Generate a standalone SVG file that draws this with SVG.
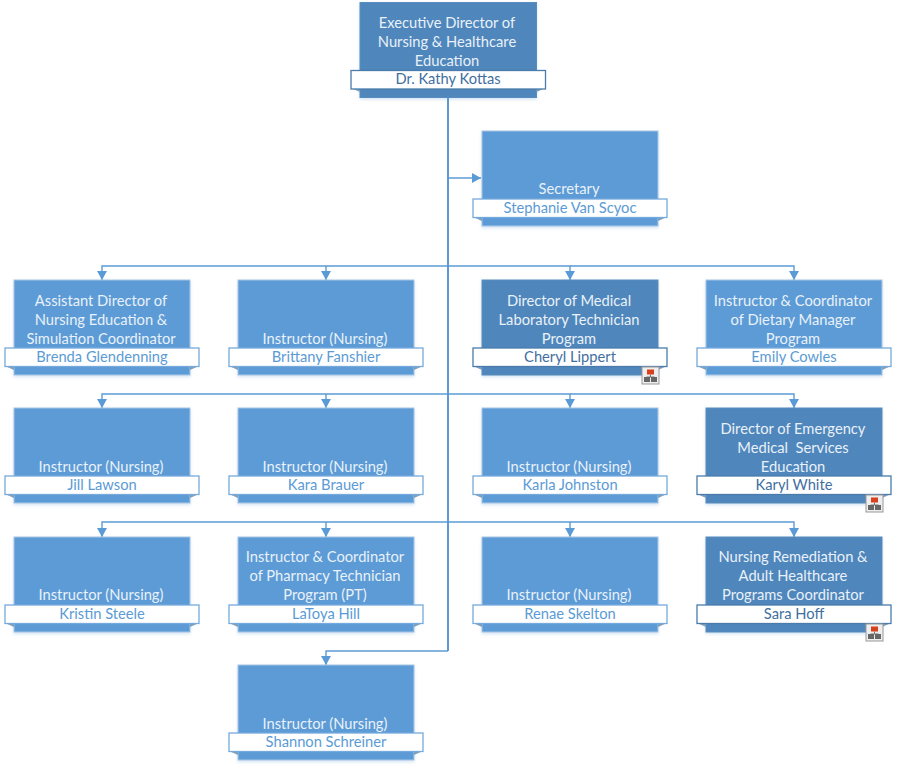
<svg xmlns="http://www.w3.org/2000/svg" xmlns:xlink="http://www.w3.org/1999/xlink" width="897" height="768" viewBox="0 0 897 768">
<style>
svg{--body:#5b9bd5;--edge:#a9c6e4;--rim:#76a9dc;--name:#5b9bd5}
.mgr{--body:#5086bb;--edge:#5a8dbf;--rim:#4a7bab;--name:#3f6f9f}
text{font-family:"Lato","Open Sans","Liberation Sans",sans-serif;font-size:14.7px;text-anchor:middle}
.t{fill:#e9f1fa}
.box{fill:var(--body);stroke:var(--edge);stroke-width:1}
.ban{fill:#fff;stroke:var(--rim);stroke-width:1.3}
.n{fill:var(--name)}
.fold{fill:#7f9fbf}
.shade{filter:url(#soft)}
.wire{fill:none;stroke:#5b9bd5;stroke-width:1.4}
.trunk{fill:none;stroke:#5b9bd5;stroke-width:2}
</style>
<defs>
<filter id="soft" x="-10%" y="-10%" width="120%" height="125%"><feDropShadow dx="0" dy="1.500" stdDeviation="1.500" flood-color="#5b9bd5" flood-opacity=".28"/></filter>
<marker id="arr" markerUnits="userSpaceOnUse" markerWidth="10" markerHeight="10" refX="9" refY="5" orient="auto"><path d="M0 0L9 5L0 10Z" fill="#5b9bd5"/></marker>
<g id="card">
<rect class="box shade" x="0" y="0" width="176" height="95"/>
<path class="fold" d="M-9 86L0 90V86ZM185 86L176 90V86Z"/>
<rect class="ban" x="-9" y="68" width="194" height="18.500"/>
</g>
<g id="sub">
<rect x="0" y="0" width="17" height="17" fill="#eee" stroke="#999"/>
<rect x="5" y="2.500" width="7" height="5" fill="#d9401c"/>
<path d="M8.500 7.500V10M4.500 10H12.500" stroke="#777" fill="none"/>
<rect x="2" y="10" width="6" height="5" fill="#666"/><rect x="9" y="10" width="6" height="5" fill="#666"/>
</g>
</defs>
<g id="connectors">
<path class="trunk" d="M448 97V651"/>
<path class="wire" d="M448 178H481" marker-end="url(#arr)"/>
<path class="wire" d="M448 266H102V280" marker-end="url(#arr)"/>
<path class="wire" d="M326 266V280" marker-end="url(#arr)"/>
<path class="wire" d="M448 266H570V280" marker-end="url(#arr)"/>
<path class="wire" d="M570 266H794V280" marker-end="url(#arr)"/>
<path class="wire" d="M448 394H102V408" marker-end="url(#arr)"/>
<path class="wire" d="M326 394V408" marker-end="url(#arr)"/>
<path class="wire" d="M448 394H570V408" marker-end="url(#arr)"/>
<path class="wire" d="M570 394H794V408" marker-end="url(#arr)"/>
<path class="wire" d="M448 522H102V537" marker-end="url(#arr)"/>
<path class="wire" d="M326 522V537" marker-end="url(#arr)"/>
<path class="wire" d="M448 522H570V537" marker-end="url(#arr)"/>
<path class="wire" d="M570 522H794V537" marker-end="url(#arr)"/>
<path class="wire" d="M448 651H326V665" marker-end="url(#arr)"/>
</g>
<g id="node-kottas" class="mgr"><rect class="box shade" x="360" y="2.500" width="176.500" height="95"/><path class="fold" d="M351 88L360 92V88ZM545.500 88L536.500 92V88Z"/><rect class="ban" x="351" y="70.500" width="194.500" height="18.500"/><text class="t" x="447" y="28">Executive Director of</text><text class="t" x="447" y="47">Nursing &amp; Healthcare</text><text class="t" x="447" y="66">Education</text><text class="n" x="448" y="84">Dr. Kathy Kottas</text></g>
<g id="node-vanscyoc"><use xlink:href="#card" x="482" y="131"/><text class="t" x="569" y="194">Secretary</text><text class="n" x="570" y="213">Stephanie Van Scyoc</text></g>
<g id="node-glendenning"><use xlink:href="#card" x="14" y="280"/><text class="t" x="101" y="306">Assistant Director of</text><text class="t" x="101" y="325">Nursing Education &amp;</text><text class="t" x="101" y="344">Simulation Coordinator</text><text class="n" x="102" y="362">Brenda Glendenning</text></g>
<g id="node-fanshier"><use xlink:href="#card" x="238" y="280"/><text class="t" x="325" y="344">Instructor (Nursing)</text><text class="n" x="326" y="362">Brittany Fanshier</text></g>
<g id="node-lippert" class="mgr"><use xlink:href="#card" x="482" y="280"/><text class="t" x="569" y="306">Director of Medical</text><text class="t" x="569" y="325">Laboratory Technician</text><text class="t" x="569" y="344">Program</text><text class="n" x="570" y="362">Cheryl Lippert</text><use xlink:href="#sub" x="642" y="367"/></g>
<g id="node-cowles"><use xlink:href="#card" x="706" y="280"/><text class="t" x="793" y="306">Instructor &amp; Coordinator</text><text class="t" x="793" y="325">of Dietary Manager</text><text class="t" x="793" y="344">Program</text><text class="n" x="794" y="362">Emily Cowles</text></g>
<g id="node-lawson"><use xlink:href="#card" x="14" y="408"/><text class="t" x="101" y="472">Instructor (Nursing)</text><text class="n" x="102" y="490">Jill Lawson</text></g>
<g id="node-brauer"><use xlink:href="#card" x="238" y="408"/><text class="t" x="325" y="472">Instructor (Nursing)</text><text class="n" x="326" y="490">Kara Brauer</text></g>
<g id="node-johnston"><use xlink:href="#card" x="482" y="408"/><text class="t" x="569" y="472">Instructor (Nursing)</text><text class="n" x="570" y="490">Karla Johnston</text></g>
<g id="node-white" class="mgr"><use xlink:href="#card" x="706" y="408"/><text class="t" x="793" y="434">Director of Emergency</text><text class="t" x="793" y="453" xml:space="preserve">Medical  Services</text><text class="t" x="793" y="472">Education</text><text class="n" x="794" y="490">Karyl White</text><use xlink:href="#sub" x="866" y="495"/></g>
<g id="node-steele"><use xlink:href="#card" x="14" y="537"/><text class="t" x="101" y="600">Instructor (Nursing)</text><text class="n" x="102" y="619">Kristin Steele</text></g>
<g id="node-hill"><use xlink:href="#card" x="238" y="537"/><text class="t" x="325" y="562">Instructor &amp; Coordinator</text><text class="t" x="325" y="581">of Pharmacy Technician</text><text class="t" x="325" y="600">Program (PT)</text><text class="n" x="326" y="619">LaToya Hill</text></g>
<g id="node-skelton"><use xlink:href="#card" x="482" y="537"/><text class="t" x="569" y="600">Instructor (Nursing)</text><text class="n" x="570" y="619">Renae Skelton</text></g>
<g id="node-hoff" class="mgr"><use xlink:href="#card" x="706" y="537"/><text class="t" x="793" y="562">Nursing Remediation &amp;</text><text class="t" x="793" y="581">Adult Healthcare</text><text class="t" x="793" y="600">Programs Coordinator</text><text class="n" x="794" y="619">Sara Hoff</text><use xlink:href="#sub" x="866" y="624"/></g>
<g id="node-schreiner"><use xlink:href="#card" x="238" y="665"/><text class="t" x="325" y="729">Instructor (Nursing)</text><text class="n" x="326" y="747">Shannon Schreiner</text></g>
</svg>
